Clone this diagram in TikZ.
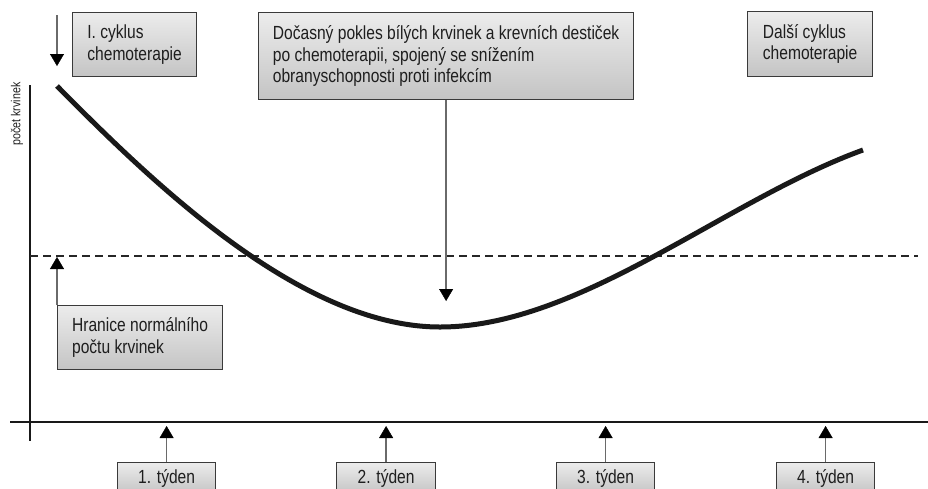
\documentclass[tikz,border=0pt]{standalone}
\usepackage{fontspec}
\setmainfont{Liberation Sans}[FakeStretch=0.82]
\usetikzlibrary{arrows.meta}
\definecolor{boxtop}{HTML}{ECECEC}
\definecolor{boxbot}{HTML}{C4C4C4}
\definecolor{boxline}{HTML}{3A3A3A}
\definecolor{txt}{HTML}{1E1E1E}
\definecolor{arrline}{HTML}{6A6A6A}
\tikzset{
  infobox/.style={draw=boxline, line width=1.2pt, top color=boxtop, bottom color=boxbot,
    anchor=north west, align=left, inner xsep=4pt, inner ysep=0pt, text=txt,
    font=\fontsize{19}{21.5}\selectfont},
  pointer/.style={draw=arrline, line width=1.6pt, -{Triangle[length=12pt,width=14pt,color=black,fill=black,line width=0.4pt]}},
  axisline/.style={line width=2.4pt, black!90},
  curveline/.style={line width=5pt, black!90},
  limitline/.style={line width=1.2pt, dash pattern=on 8pt off 5pt, black!85}
}
\begin{document}
\begin{tikzpicture}[x=1pt,y=-1pt]
\useasboundingbox (0,0) rectangle (928,488);
\clip (0,0) rectangle (928,488);
% axes
\coordinate (yaxT) at (30,85);
\coordinate (yaxB) at (30,441);
\coordinate (xaxL) at (10,422);
\coordinate (xaxR) at (928,422);
\draw[axisline] (yaxT) -- (yaxB);
\draw[axisline] (xaxL) -- (xaxR);
\node[rotate=90, font=\fontsize{13}{15}\selectfont, text=txt, inner sep=0pt] (ylab) at (17,114) {počet krvinek};
% normal limit
\coordinate (limL) at (30,256);
\coordinate (limR) at (918,256);
\draw[limitline] (limL) -- (limR);
% curve
\coordinate (c0) at (57,86);
\coordinate (cmin) at (440,327);
\coordinate (cend) at (863,150);
\draw[curveline] (c0) .. controls (150,180) and (300,327) .. (cmin)
  .. controls (580,327) and (725,200) .. (cend);
% top boxes
\node[infobox, minimum width=124pt, minimum height=64pt] (cyc1) at (72,12) {I. cyklus\\chemoterapie};
\node[infobox, minimum width=375pt, minimum height=87pt] (drop) at (258,12)
  {Dočasný pokles bílých krvinek a krevních destiček\\po chemoterapii, spojený se snížením\\obranyschopnosti proti infekcím};
\node[infobox, minimum width=125pt, minimum height=65pt] (cyc2) at (747,11) {Další cyklus\\chemoterapie};
\node[infobox, minimum width=165pt, minimum height=64pt] (limit) at (57,305) {Hranice normálního\\počtu krvinek};
% bottom boxes
\node[infobox, minimum width=98pt, minimum height=31pt] (w1) at (117,462) {1. týden};
\node[infobox, minimum width=99pt, minimum height=31pt] (w2) at (336,462) {2. týden};
\node[infobox, minimum width=98pt, minimum height=31pt] (w3) at (556,462) {3. týden};
\node[infobox, minimum width=98pt, minimum height=31pt] (w4) at (776,462) {4. týden};
% pointers
\coordinate (startT) at (57,15);
\coordinate (startB) at (57,66);
\draw[pointer] (startT) -- (startB);
\coordinate (dropTip) at (drop.south |- 0,301);
\draw[pointer] (drop.south) -- (dropTip);
\coordinate (limTip) at (limit.north west |- 0,257);
\draw[pointer] (limit.north west) -- (limTip);
\foreach \w in {w1,w2,w3,w4}{
  \coordinate (\w tip) at (\w.north |- 0,426);
  \draw[pointer] (\w.north) -- (\w tip);
}
\end{tikzpicture}
\end{document}
